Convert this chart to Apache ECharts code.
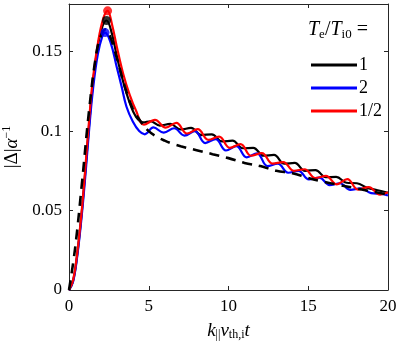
<!DOCTYPE html>
<html>
<head>
<meta charset="utf-8">
<script src="https://cdn.jsdelivr.net/npm/echarts@6/dist/echarts.min.js"></script>
<style>
  html, body { margin: 0; padding: 0; background: #fff; }
  #main { width: 399px; height: 347px; }
</style>
</head>
<body>
<div id="main"></div>
<script>
// x values are k_|| v_th,i t, y values are |Delta| alpha^-1
const blackT = [0, 0.25, 0.5, 0.8, 1.05, 1.27, 1.5, 1.8, 2.1, 2.35, 2.7, 3.0, 3.4, 3.8, 4.2, 4.66, 5.1, 5.7, 6.35, 7.0, 7.65, 8.3, 8.95, 9.6, 10.25, 10.9, 11.55, 12.2, 12.85, 13.5, 14.15, 14.8, 15.45, 16.1, 16.75, 17.4, 18.05, 18.7, 19.35, 20];
const blackV = [0, 0.0055, 0.021, 0.049, 0.078, 0.105, 0.13, 0.153, 0.166, 0.1696, 0.161, 0.147, 0.131, 0.118, 0.109, 0.1055, 0.1062, 0.1035, 0.1045, 0.101, 0.102, 0.0975, 0.098, 0.0935, 0.094, 0.0892, 0.0895, 0.0845, 0.085, 0.0795, 0.08, 0.075, 0.0755, 0.071, 0.0712, 0.0675, 0.0672, 0.0643, 0.0628, 0.0612];

const blueT = [0, 0.25, 0.5, 0.8, 1.05, 1.27, 1.5, 1.8, 2.1, 2.26, 2.6, 3.0, 3.3, 3.6, 4.0, 4.4, 4.75, 5.29, 5.94, 6.59, 7.24, 7.89, 8.54, 9.19, 9.84, 10.49, 11.14, 11.79, 12.44, 13.09, 13.74, 14.39, 15.04, 15.69, 16.34, 16.99, 17.64, 18.29, 18.94, 19.59, 20];
const blueV = [0, 0.005, 0.02, 0.047, 0.075, 0.102, 0.126, 0.148, 0.16, 0.162, 0.156, 0.14, 0.128, 0.1155, 0.106, 0.1, 0.098, 0.1023, 0.099, 0.1018, 0.0972, 0.1, 0.0925, 0.095, 0.0878, 0.0905, 0.0835, 0.086, 0.078, 0.0795, 0.0738, 0.075, 0.0696, 0.0707, 0.066, 0.0672, 0.063, 0.064, 0.061, 0.0605, 0.0595];

const redT = [0, 0.25, 0.5, 0.8, 1.05, 1.27, 1.5, 1.84, 2.15, 2.42, 2.7, 3.0, 3.4, 3.8, 4.2, 4.7, 5.39, 6.06, 6.73, 7.4, 8.07, 8.74, 9.41, 10.08, 10.75, 11.42, 12.09, 12.76, 13.43, 14.1, 14.77, 15.44, 16.11, 16.78, 17.45, 18.12, 18.79, 19.5, 20];
const redV = [0, 0.006, 0.022, 0.05, 0.08, 0.108, 0.133, 0.157, 0.171, 0.1757, 0.167, 0.153, 0.136, 0.123, 0.113, 0.104, 0.1071, 0.1022, 0.1052, 0.0985, 0.1012, 0.0945, 0.0965, 0.0895, 0.0918, 0.0845, 0.0862, 0.0795, 0.0805, 0.075, 0.076, 0.0705, 0.0718, 0.0665, 0.0698, 0.0632, 0.0648, 0.06, 0.0615];

const dashT = [0, 0.38, 0.8, 1.27, 1.7, 2.0, 2.3, 2.6, 3.0, 3.5, 4.0, 4.5, 5.0, 5.5, 6.0, 6.5, 7.0, 8.0, 9.0, 10.0, 11.0, 12.0, 13.0, 14.0, 15.0, 16.0, 17.0, 18.0, 19.0, 20.0];
const dashV = [0, 0.026, 0.066, 0.114, 0.148, 0.16, 0.164, 0.159, 0.146, 0.128, 0.114, 0.106, 0.1, 0.0965, 0.094, 0.092, 0.0905, 0.088, 0.0855, 0.083, 0.08, 0.078, 0.075, 0.0735, 0.0705, 0.068, 0.066, 0.064, 0.062, 0.06];

// peak markers
const peakT = [2.35, 2.26, 2.42];
const peakV = [0.1696, 0.162, 0.1757];

const xTicks = [0, 5, 10, 15, 20];
const yTicks = [0, 0.05, 0.1, 0.15];

const names = ["1", "2", "1/2"];
const colors = ["#000000", "#0000ff", "#ff0000"];

const zip = (xs, ys) => xs.map((x, i) => [x, ys[i]]);

const chart = echarts.init(document.getElementById("main"));

const axisCol = "#262626";
const font = "Liberation Serif";

const lineSeries = (name, xs, ys, color, z) => ({
	name: name,
	type: "line",
	data: zip(xs, ys),
	smooth: 0.4,
	showSymbol: false,
	symbol: "none",
	z: z,
	lineStyle: { color: color, width: 2.2 },
	itemStyle: { color: color },
});

const frameAxis = {
	axisLine: { show: true, onZero: false, lineStyle: { color: axisCol, width: 1 } },
	axisTick: { show: true, inside: true, length: 4, lineStyle: { color: axisCol } },
	splitLine: { show: false },
};

const option = {
	animation: false,
	grid: { left: 69, right: 11, top: 4, bottom: 57, containLabel: false, outerBoundsMode: "none" },
	textStyle: { fontFamily: font },
	legend: {
		data: names,
		orient: "vertical",
		left: 306,
		top: 51,
		itemWidth: 46,
		itemHeight: 3,
		itemGap: 5,
		icon: "rect",
		textStyle: { fontFamily: font, fontSize: 18, color: "#000", lineHeight: 16, padding: [0, 0, 0, -3] },
	},
	graphic: [
		{
			type: "text",
			left: 308,
			top: 20,
			style: {
				text: "{i|T}{s|e}{n|/}{i|T}{s|i0}{n| =}",
				rich: {
					i: { fontFamily: font, fontStyle: "italic", fontSize: 20, fill: "#000" },
					n: { fontFamily: font, fontSize: 20, fill: "#000" },
					s: { fontFamily: font, fontSize: 13, fill: "#000", padding: [9, 0, 0, 0] },
				},
			},
		},
	],
	xAxis: [
		Object.assign({}, frameAxis, {
			type: "value",
			min: 0,
			max: 20,
			interval: 5,
			name: "{i|k}{s|||}{i|v}{s|th,i}{i|t}",
			nameLocation: "middle",
			nameGap: 30,
			nameTextStyle: {
				rich: {
					i: { fontFamily: font, fontStyle: "italic", fontSize: 19, color: "#000" },
					s: { fontFamily: font, fontSize: 12, color: "#000", padding: [9, 0, 0, 0] },
				},
			},
			axisLabel: { fontFamily: font, fontSize: 17, color: "#000", margin: 8 },
		}),
		Object.assign({}, frameAxis, {
			type: "value",
			position: "top",
			min: 0,
			max: 20,
			interval: 5,
			axisLabel: { show: false },
		}),
	],
	yAxis: [
		Object.assign({}, frameAxis, {
			type: "value",
			min: 0,
			max: 0.18,
			interval: 0.05,
			name: "{n||Δ|}{i|α}{p|−1}",
			nameLocation: "middle",
			nameGap: 44,
			nameRotate: 90,
			nameTextStyle: {
				rich: {
					i: { fontFamily: font, fontStyle: "italic", fontSize: 19, color: "#000" },
					n: { fontFamily: font, fontSize: 19, color: "#000" },
					p: { fontFamily: font, fontSize: 12, color: "#000", padding: [0, 0, 10, 0] },
				},
			},
			axisLabel: { fontFamily: font, fontSize: 17, color: "#000", margin: 7, showMaxLabel: false },
		}),
		Object.assign({}, frameAxis, {
			type: "value",
			position: "right",
			min: 0,
			max: 0.18,
			interval: 0.05,
			axisLabel: { show: false },
		}),
	],
	series: [
		lineSeries(names[0], blackT, blackV, colors[0], 2),
		lineSeries(names[1], blueT, blueV, colors[1], 3),
		lineSeries(names[2], redT, redV, colors[2], 4),
		{
			name: "asymptotic",
			type: "line",
			data: zip(dashT, dashV),
			smooth: 0.4,
			showSymbol: false,
			symbol: "none",
			z: 5,
			lineStyle: { color: "#000", width: 2.6, type: [10, 7] },
		},
		{
			name: "peaks",
			type: "scatter",
			data: peakT.map((t, i) => ({ value: [t, peakV[i]], itemStyle: { color: colors[i] } })),
			symbolSize: 9,
			z: 6,
		},
	],
};

chart.setOption(option);
</script>
</body>
</html>
